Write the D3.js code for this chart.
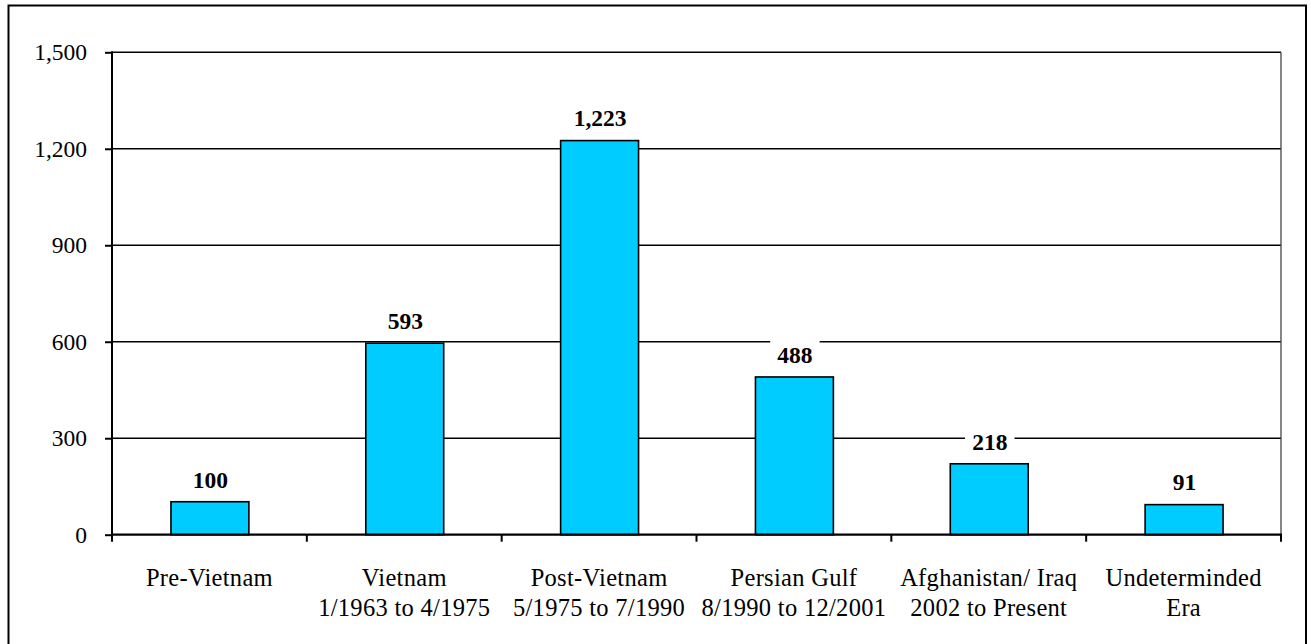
<!DOCTYPE html>
<html>
<head>
<meta charset="utf-8">
<script src="https://cdn.jsdelivr.net/npm/d3@7"></script>
<style>
  html, body { margin: 0; padding: 0; background: #fff; }
  svg { display: block; }
  svg text { font-family: "Liberation Serif", "Tinos", "Times New Roman", "DejaVu Serif", serif !important; fill: #000; }
</style>
</head>
<body>
<svg id="chart" width="1311" height="644"></svg>
<script>
const categoryLine1 = ["Pre-Vietnam", "Vietnam", "Post-Vietnam", "Persian Gulf", "Afghanistan/ Iraq", "Undeterminded"];
const categoryLine2 = ["", "1/1963 to 4/1975", "5/1975 to 7/1990", "8/1990 to 12/2001", "2002 to Present", "Era"];
const values = [100, 593, 1223, 488, 218, 91];
const yTicks = [0, 300, 600, 900, 1200, 1500];

const FONT = "'Liberation Serif', 'Tinos', 'Times New Roman', 'DejaVu Serif', serif";
const svg = d3.select("#chart").attr("font-family", FONT);
const plot = { left: 112, right: 1281, top: 52.3, bottom: 534.7 };

// outer frame
svg.append("rect")
  .attr("x", 8.5).attr("y", 5.5)
  .attr("width", 1306 - 8.5).attr("height", 660)
  .attr("fill", "none").attr("stroke", "#000").attr("stroke-width", 2);

const x = d3.scaleBand().domain(d3.range(values.length))
  .range([plot.left, plot.right]).paddingInner(0).paddingOuter(0);
const y = d3.scaleLinear().domain([0, 1500]).range([plot.bottom, plot.top]);

// gridlines
svg.append("g").selectAll("line").data(yTicks.filter(d => d > 0)).join("line")
  .attr("x1", plot.left).attr("x2", plot.right)
  .attr("y1", d => y(d)).attr("y2", d => y(d))
  .attr("stroke", "#000").attr("stroke-width", 1.4);

// right border of plot
svg.append("line")
  .attr("x1", plot.right).attr("x2", plot.right)
  .attr("y1", plot.top).attr("y2", plot.bottom)
  .attr("stroke", "#444").attr("stroke-width", 1.3);

// y axis
const yAxis = d3.axisLeft(y).tickValues(yTicks).tickSize(7).tickPadding(18)
  .tickFormat(d3.format(","));
const gy = svg.append("g").attr("transform", `translate(${plot.left},0)`).call(yAxis)
  .attr("font-family", FONT);
gy.select(".domain").remove();
gy.selectAll(".tick line").attr("stroke", "#000").attr("stroke-width", 2);
gy.selectAll(".tick text").attr("font-size", 23.5).attr("fill", "#000");
svg.append("line")
  .attr("x1", plot.left).attr("x2", plot.left)
  .attr("y1", plot.top - 1).attr("y2", plot.bottom + 7)
  .attr("stroke", "#000").attr("stroke-width", 2);

// bars
const barW = x.bandwidth() * 0.4;
svg.append("g").selectAll("rect").data(values).join("rect")
  .attr("x", (d, i) => x(i) + x.bandwidth() / 2 - barW / 2 + 0.5)
  .attr("width", barW)
  .attr("y", d => y(d) - 0.8)
  .attr("height", d => plot.bottom - y(d) + 0.8)
  .attr("fill", "#00CCFF")
  .attr("stroke", "#000").attr("stroke-width", 1.6);

// x axis baseline and ticks
svg.append("line")
  .attr("x1", plot.left).attr("x2", plot.right + 1)
  .attr("y1", plot.bottom).attr("y2", plot.bottom)
  .attr("stroke", "#000").attr("stroke-width", 2.3);
const boundaries = d3.range(values.length + 1).map(i => i < values.length ? x(i) : plot.right);
svg.append("g").selectAll("line").data(boundaries.slice(1)).join("line")
  .attr("x1", d => d).attr("x2", d => d)
  .attr("y1", plot.bottom).attr("y2", plot.bottom + 7)
  .attr("stroke", "#000").attr("stroke-width", 2);

// value labels with white background
const vl = svg.append("g").selectAll("g").data(values).join("g")
  .attr("transform", (d, i) => `translate(${x(i) + x.bandwidth() / 2 + 1},${y(d) - 15})`);
vl.append("rect")
  .attr("x", d => -(d3.format(",")(d).length * 5.9) - 7)
  .attr("width", d => d3.format(",")(d).length * 11.8 + 14)
  .attr("y", -22).attr("height", 26)
  .attr("fill", "#fff");
vl.append("text")
  .attr("text-anchor", "middle")
  .attr("font-size", 23.5).attr("font-weight", "bold")
  .text(d => d3.format(",")(d));

// category labels
const cl = svg.append("g").selectAll("text").data(categoryLine1).join("text")
  .attr("text-anchor", "middle")
  .attr("font-size", 24.5)
  .attr("letter-spacing", 0.3)
  .attr("x", (d, i) => x(i) + x.bandwidth() / 2)
  .attr("y", 586);
cl.append("tspan").attr("x", (d, i) => x(i) + x.bandwidth() / 2).text(d => d);
cl.append("tspan").attr("x", (d, i) => x(i) + x.bandwidth() / 2).attr("dy", 30)
  .text((d, i) => categoryLine2[i]);
</script>
</body>
</html>
